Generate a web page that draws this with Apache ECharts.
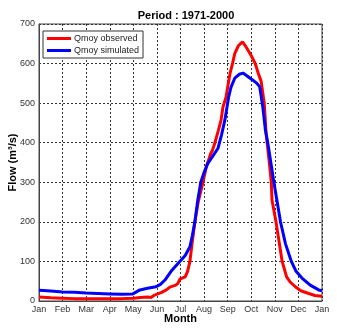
<!DOCTYPE html>
<html><head><meta charset="utf-8">
<script src="https://cdn.jsdelivr.net/npm/echarts@6/dist/echarts.min.js"></script>
<style>html,body{margin:0;padding:0;background:#fff}#c{width:337px;height:333px}</style>
</head><body><div id="c"></div>
<script>
const monthLabels = ['Jan','Feb','Mar','Apr','May','Jun','Jul','Aug','Sep','Oct','Nov','Dec','Jan'];
const yTicks = [0,100,200,300,400,500,600,700];
// x in months since Jan 1
const obsX = [0,0.5,1,1.5,2,2.5,3,3.5,4,4.3,4.6,4.75,4.9,5.2,5.4,5.55,5.8,5.9,5.97,6.05,6.2,6.3,6.4,6.5,6.61,6.75,6.95,7.1,7.29,7.35,7.46,7.6,7.72,7.8,7.93,8.0,8.1,8.21,8.3,8.45,8.63,8.75,8.99,9.17,9.3,9.42,9.55,9.63,9.77,9.85,9.88,9.93,10.05,10.18,10.31,10.5,10.65,10.87,11.1,11.44,11.7,12];
const obsY = [10,8,7,6,6,6,6,6,7,9,10,9,15,22,28,35,40,45,55,58,61,75,100,150,200,250,300,340,374,380,400,430,457,490,515,540,575,601,625,645,655,645,621,600,575,555,500,424,348,300,255,250,200,150,100,61,48,36,26,19,14,12];
const simX = [0,0.5,1,1.5,2,2.5,3,3.5,3.98,4.28,4.6,4.96,5.15,5.34,5.6,5.97,6.2,6.4,6.5,6.61,6.72,6.86,7.0,7.16,7.39,7.59,7.74,7.88,8.04,8.14,8.3,8.49,8.65,8.84,9.07,9.24,9.36,9.49,9.6,9.7,9.96,10.1,10.24,10.45,10.7,10.9,11.15,11.5,11.86,12];
const simY = [27,25,23,22,20,19,18,17,18,28,32,36,42,53,75,100,115,137,165,200,250,300,325,348,368,386,420,457,515,540,563,573,576,568,558,550,541,490,432,400,300,250,200,145,100,75,58,40,28,26];

const chart = echarts.init(document.getElementById('c'));
const font = 'Liberation Sans, Arial, sans-serif';
chart.setOption({
  animation:false,
  title:{text:'Period : 1971-2000', left:181, top:5, textAlign:'center',
    textStyle:{fontSize:11,fontWeight:'bold',color:'#000',fontFamily:font}},
  grid:{left:39,right:15,top:24,bottom:32,containLabel:false,outerBoundsMode:'none',show:true,borderColor:'#444',borderWidth:1,backgroundColor:'#fff'},
  legend:{orient:'vertical',left:43,top:31,backgroundColor:'#fff',borderColor:'#333',borderWidth:1,
    padding:[3,4,3,4],itemGap:3,itemWidth:24,itemHeight:3,icon:'rect',
    textStyle:{fontSize:9,color:'#222',fontFamily:font,padding:[0,0,0,-2]},
    data:['Qmoy observed','Qmoy simulated']},
  xAxis:{type:'value',min:0,max:12,interval:1,
    name:'Month',nameLocation:'middle',nameGap:12,nameMoveOverlap:false,
    nameTextStyle:{fontSize:11,fontWeight:'bold',color:'#000',fontFamily:font},
    axisLine:{show:true,lineStyle:{color:'#444'}},axisTick:{show:false},
    axisLabel:{fontSize:9,color:'#333',margin:4,fontFamily:font,formatter:v=>monthLabels[Math.round(v)]},
    splitLine:{show:true,lineStyle:{color:'#333',type:[2,2],width:1}}},
  yAxis:{type:'value',min:yTicks[0],max:yTicks[yTicks.length-1],interval:100,
    name:'Flow (m³/s)',nameLocation:'middle',nameGap:21,nameMoveOverlap:false,
    nameTextStyle:{fontSize:11,fontWeight:'bold',color:'#000',fontFamily:font},
    axisLine:{show:true,lineStyle:{color:'#444'}},axisTick:{show:false},
    axisLabel:{fontSize:9,color:'#333',margin:4,fontFamily:font},
    splitLine:{show:true,lineStyle:{color:'#333',type:[2,2],width:1}}},
  series:[
    {name:'Qmoy observed',type:'line',showSymbol:false,color:'#ff0000',lineStyle:{width:3,color:'#ff0000'},
      data:obsX.map((x,i)=>[x,obsY[i]])},
    {name:'Qmoy simulated',type:'line',showSymbol:false,color:'#0000ff',lineStyle:{width:3,color:'#0000ff'},
      data:simX.map((x,i)=>[x,simY[i]])}
  ]
});
</script></body></html>
